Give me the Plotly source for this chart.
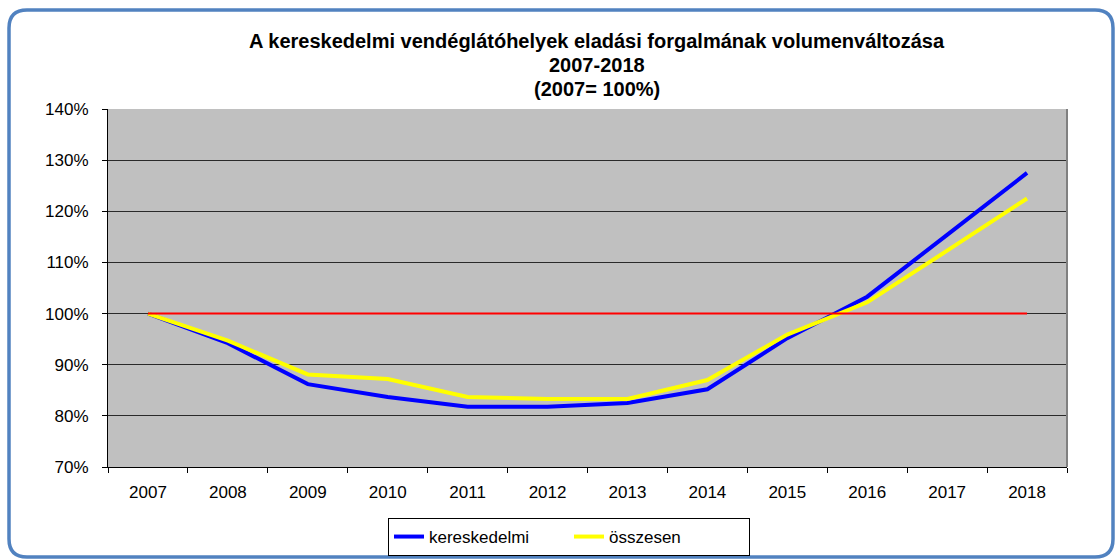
import plotly.graph_objects as go

years = ["2007", "2008", "2009", "2010", "2011", "2012", "2013", "2014", "2015", "2016", "2017", "2018"]
kereskedelmi = [100.0, 94.2, 86.2, 83.7, 81.8, 81.8, 82.5, 85.2, 95.2, 103.3, 115.4, 127.5]
osszesen = [100.0, 94.7, 88.1, 87.2, 83.7, 83.3, 83.3, 87.0, 95.9, 102.2, 112.3, 122.5]
bazis = [100, 100, 100, 100, 100, 100, 100, 100, 100, 100, 100, 100]
y_ticks = [70, 80, 90, 100, 110, 120, 130, 140]
y_tick_labels = ["70%", "80%", "90%", "100%", "110%", "120%", "130%", "140%"]
title_lines = ["A kereskedelmi vendéglátóhelyek eladási forgalmának volumenváltozása",
               "2007-2018", "(2007= 100%)"]

W, H = 1115, 559
L, R, T, B = 108, 48, 109, 92
pw, ph = W - L - R, H - T - B

def px_x(p):
    return (p - L) / pw

def px_y(p):
    return (H - B - p) / ph

FONT = "Liberation Sans, Arial, sans-serif"

fig = go.Figure()
fig.add_trace(go.Scatter(x=years, y=kereskedelmi, mode="lines", name="kereskedelmi",
                         line=dict(color="#0000FF", width=4)))
fig.add_trace(go.Scatter(x=years, y=osszesen, mode="lines", name="összesen",
                         line=dict(color="#FFFF00", width=4)))
fig.add_trace(go.Scatter(x=years, y=bazis, mode="lines", name="2007", showlegend=False,
                         line=dict(color="#FF0000", width=2)))

title_y = [41, 65, 89]
for txt, yy in zip(title_lines, title_y):
    fig.add_annotation(text=f"<b>{txt}</b>", xref="paper", yref="paper",
                       x=px_x(597), y=px_y(yy), xanchor="center", yanchor="middle",
                       showarrow=False, font=dict(family=FONT, size=20, color="black"))

# outer rounded border
x0, y0, x1, y1, r = 9, 10, 1113, 557, 18
path = (f"M {px_x(x0 + r)},{px_y(y0)} L {px_x(x1 - r)},{px_y(y0)} "
        f"Q {px_x(x1)},{px_y(y0)} {px_x(x1)},{px_y(y0 + r)} "
        f"L {px_x(x1)},{px_y(y1 - r)} Q {px_x(x1)},{px_y(y1)} {px_x(x1 - r)},{px_y(y1)} "
        f"L {px_x(x0 + r)},{px_y(y1)} Q {px_x(x0)},{px_y(y1)} {px_x(x0)},{px_y(y1 - r)} "
        f"L {px_x(x0)},{px_y(y0 + r)} Q {px_x(x0)},{px_y(y0)} {px_x(x0 + r)},{px_y(y0)} Z")
fig.add_shape(type="path", path=path, xref="paper", yref="paper",
              line=dict(color="#5182C0", width=3.5), layer="below")
# right border of plot area
fig.add_shape(type="line", xref="paper", yref="paper", x0=1, x1=1, y0=0, y1=1,
              line=dict(color="#808080", width=2))

fig.update_layout(
    width=W, height=H,
    margin=dict(l=L, r=R, t=T, b=B, autoexpand=False),
    paper_bgcolor="white",
    plot_bgcolor="#C0C0C0",
    font=dict(family=FONT, size=17, color="black"),
    showlegend=True,
    legend=dict(orientation="h", xref="container", yref="container",
                x=569 / W, xanchor="center", y=1 - 537 / H, yanchor="middle",
                bgcolor="white", bordercolor="black", borderwidth=1,
                font=dict(family=FONT, size=17, color="black"),
                entrywidth=135, traceorder="normal"),
    xaxis=dict(type="category", range=[-0.5, 11.5], tickson="boundaries",
               ticks="outside", ticklen=5, tickcolor="black", tickwidth=1,
               showline=True, linecolor="black", linewidth=1, showgrid=False,
               ticklabelstandoff=10, tickfont=dict(size=17), automargin=False),
    yaxis=dict(range=[70, 140], tickmode="array", tickvals=y_ticks, ticktext=y_tick_labels,
               ticks="outside", ticklen=5, tickcolor="black", tickwidth=1,
               showline=True, linecolor="black", linewidth=1,
               showgrid=True, gridcolor="#2a2a2a", gridwidth=1, zeroline=False,
               ticklabelstandoff=10, tickfont=dict(size=17), automargin=False),
)

fig.write_html("out.html", config={"displayModeBar": False},
               post_script="document.body.style.margin='0';document.body.style.overflow='hidden';")
